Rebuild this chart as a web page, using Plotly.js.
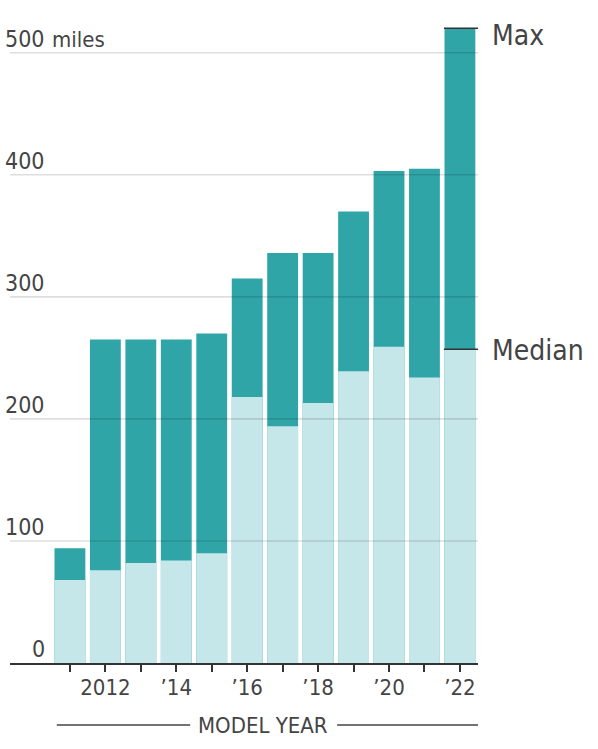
<!DOCTYPE html>
<html>
<head>
<meta charset="utf-8">
<script src="https://cdn.plot.ly/plotly-3.0.1.min.js"></script>
<style>html,body{margin:0;padding:0;background:#fff;}#chart{width:598px;height:749px;}</style>
</head>
<body>
<div id="chart"></div>
<script>
// Data
const years = [2011, 2012, 2013, 2014, 2015, 2016, 2017, 2018, 2019, 2020, 2021, 2022];
const maxRange = [94, 265, 265, 265, 270, 315, 336, 336, 370, 403, 405, 520];
const medianRange = [68, 76, 82, 84, 90, 218, 194, 213, 239, 259, 234, 257];
const xTickLabels = ['', '2012', '', '’14', '', '’16', '', '’18', '', '’20', '', '’22'];
const yTickVals = [0, 100, 200, 300, 400, 500];
const yTickLabels = ['0', '100', '200', '300', '400', '500'];
const yUnit = 'miles';
const seriesNames = ['Max', 'Median'];
const axisTitle = 'MODEL YEAR';

const FONT = '"Liberation Sans Narrow", "DejaVu Sans Condensed", "Roboto Condensed", "Arial Narrow", sans-serif';
const DARK = '#30a5a8';
const LIGHT = '#c6e7ea';
const TEXT = '#444444';

const traces = [
  {type: 'bar', x: years, y: maxRange, name: seriesNames[0], marker: {color: DARK, line: {width: 0}}, width: 0.87, hoverinfo: 'x+y'},
  {type: 'bar', x: years, y: medianRange, name: seriesNames[1], marker: {color: LIGHT, line: {width: 0}}, width: 0.87, hoverinfo: 'x+y'}
];

const last = years.length - 1;
const shapes = [];
// gridlines drawn above bars (as in reference)
yTickVals.forEach(v => {
  if (v === 0) return;
  shapes.push({type: 'line', xref: 'paper', yref: 'y', x0: 0, x1: 1, y0: v, y1: v, layer: 'above',
    line: {color: 'rgba(0,0,0,0.13)', width: 1.6}});
});
// leader lines for Max / Median labels
[maxRange[last], medianRange[last]].forEach(v => {
  shapes.push({type: 'line', xref: 'x', yref: 'y', xsizemode: 'pixel', xanchor: years[last], x0: -16, x1: 27,
    y0: v, y1: v, layer: 'above', line: {color: '#333', width: 1.6}});
});
// axis-title rules
shapes.push({type: 'line', xref: 'paper', yref: 'paper', x0: 0.1, x1: 0.385, y0: -0.095, y1: -0.095, line: {color: '#444', width: 1.6}});
shapes.push({type: 'line', xref: 'paper', yref: 'paper', x0: 0.699, x1: 1.0, y0: -0.095, y1: -0.095, line: {color: '#444', width: 1.6}});

const annotations = [];
yTickVals.forEach((v, i) => {
  annotations.push({xref: 'paper', yref: 'y', x: 0.078, y: v, xanchor: 'right', yanchor: 'bottom', yshift: -1,
    text: yTickLabels[i], showarrow: false, font: {family: FONT, size: 23, color: TEXT}});
});
annotations.push({xref: 'paper', yref: 'y', x: 0.078, y: yTickVals[yTickVals.length - 1], xanchor: 'left', yanchor: 'bottom', xshift: 3, yshift: -1,
  text: yUnit, showarrow: false, font: {family: FONT, size: 22, color: TEXT}});
annotations.push({xref: 'x', yref: 'y', x: years[last], y: maxRange[last], xanchor: 'left', yanchor: 'middle', xshift: 30, yshift: -7,
  text: seriesNames[0], showarrow: false, font: {family: FONT, size: 28, color: TEXT}});
annotations.push({xref: 'x', yref: 'y', x: years[last], y: medianRange[last], xanchor: 'left', yanchor: 'middle', xshift: 30, yshift: -1,
  text: seriesNames[1], showarrow: false, font: {family: FONT, size: 28, color: TEXT}});
annotations.push({xref: 'paper', yref: 'paper', x: 0.541, y: -0.095, xanchor: 'center', yanchor: 'middle',
  text: axisTitle, showarrow: false, font: {family: FONT, size: 22, color: TEXT}});

const layout = {
  width: 598, height: 749,
  margin: {l: 10, r: 120, t: 10, b: 86},
  paper_bgcolor: '#fff', plot_bgcolor: '#fff',
  barmode: 'overlay',
  showlegend: false,
  font: {family: FONT, color: TEXT},
  xaxis: {
    range: [2009.31, 2022.51], tickvals: years, ticktext: xTickLabels,
    ticks: 'outside', ticklen: 7, tickwidth: 2, tickcolor: '#333',
    showline: true, linecolor: '#333', linewidth: 2, showgrid: false, zeroline: false,
    ticklabelstandoff: -3,
    tickfont: {family: FONT, size: 22, color: TEXT}, fixedrange: true
  },
  yaxis: {
    range: [0, 535], tickvals: yTickVals, showticklabels: false, showgrid: false, zeroline: false,
    showline: false, fixedrange: true
  },
  shapes: shapes,
  annotations: annotations
};

Plotly.newPlot('chart', traces, layout, {displayModeBar: false, staticPlot: true});
</script>
</body>
</html>
